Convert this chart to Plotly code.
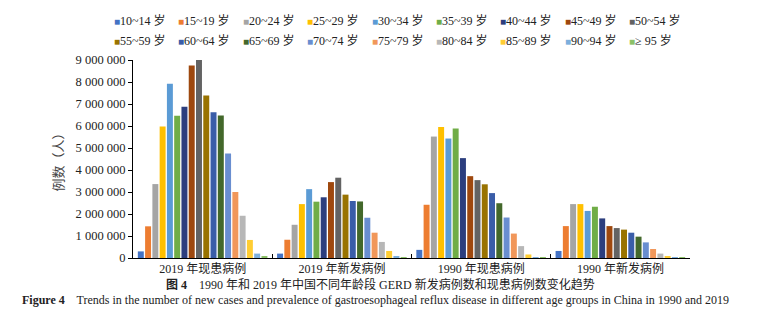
import plotly.graph_objects as go

groups = ["2019 年现患病例", "2019 年新发病例", "1990 年现患病例", "1990 年新发病例"]
ages = ["10~14 岁", "15~19 岁", "20~24 岁", "25~29 岁", "30~34 岁", "35~39 岁",
        "40~44 岁", "45~49 岁", "50~54 岁", "55~59 岁", "60~64 岁", "65~69 岁",
        "70~74 岁", "75~79 岁", "80~84 岁", "85~89 岁", "90~94 岁", "≥ 95 岁"]

prev_2019 = [300000, 1440000, 3360000, 5980000, 7920000, 6470000, 6880000, 8750000, 9010000,
             7390000, 6630000, 6480000, 4750000, 3000000, 1920000, 820000, 200000, 70000]
inc_2019 = [200000, 830000, 1510000, 2450000, 3130000, 2560000, 2760000, 3450000, 3650000,
            2880000, 2590000, 2570000, 1830000, 1150000, 730000, 320000, 90000, 20000]
prev_1990 = [370000, 2420000, 5520000, 5950000, 5430000, 5890000, 4540000, 3720000, 3540000,
             3350000, 2950000, 2490000, 1840000, 1110000, 540000, 160000, 30000, 5000]
inc_1990 = [320000, 1450000, 2450000, 2450000, 2140000, 2330000, 1800000, 1450000, 1360000,
            1290000, 1150000, 970000, 710000, 410000, 200000, 60000, 10000, 2000]

colors = ["#4472C4", "#ED7D31", "#A5A5A5", "#FFC000", "#5B9BD5", "#70AD47",
          "#2C3E7E", "#9E480E", "#636363", "#997300", "#3A5DA8", "#43682B",
          "#698ED0", "#F1975A", "#B7B7B7", "#FFCD33", "#7CAFDD", "#8CC168"]

y_title = "例数（人）"
caption_cn = "<b>图 4</b>　1990 年和 2019 年中国不同年龄段 GERD 新发病例数和现患病例数变化趋势"
caption_en = ("<b>Figure 4</b>    Trends in the number of new cases and prevalence of gastroesophageal "
              "reflux disease in different age groups in China in 1990 and 2019")

FONT = "Liberation Serif, Noto Sans CJK SC, serif"
TXT = "#222222"

fig = go.Figure()
series = [prev_2019, inc_2019, prev_1990, inc_1990]
for i, (age, col) in enumerate(zip(ages, colors)):
    fig.add_trace(go.Bar(
        x=groups,
        y=[s[i] for s in series],
        name=age,
        marker=dict(color=col, line=dict(width=0)),
        showlegend=False,
    ))

# legend drawn as text rows (9 entries per row)
W, H = 557.0, 198.0
annotations = []
for i, (age, col) in enumerate(zip(ages, colors)):
    row, colidx = divmod(i, 9)
    xpx = 112 + 64.4 * colidx
    ypx = 20 + 20 * row
    annotations.append(dict(
        x=(xpx - 133) / W, y=(258 - ypx) / H, xref="paper", yref="paper",
        xanchor="left", yanchor="middle", showarrow=False,
        text=f"<span style='color:{col};font-size:10px'>■</span>{age}",
        font=dict(family=FONT, size=12, color=TXT),
    ))

annotations.append(dict(
    x=(380 - 133) / W, y=(258 - 284) / H, xref="paper", yref="paper",
    xanchor="center", yanchor="middle", showarrow=False,
    text=caption_cn, font=dict(family=FONT, size=12, color=TXT)))
annotations.append(dict(
    x=(20 - 133) / W, y=(258 - 300) / H, xref="paper", yref="paper",
    xanchor="left", yanchor="middle", showarrow=False,
    text=caption_en, font=dict(family=FONT, size=12, color=TXT)))

fig.update_layout(
    width=760, height=318,
    margin=dict(l=133, r=70, t=60, b=60, autoexpand=False),
    paper_bgcolor="white", plot_bgcolor="white",
    barmode="group", bargap=0.06, bargroupgap=0.18,
    separators=". ",
    font=dict(family=FONT, size=12, color=TXT),
    annotations=annotations,
    xaxis=dict(
        showline=True, linecolor="#000000", linewidth=1,
        ticks="inside", tickson="boundaries", ticklen=4, tickcolor="#000000",
        tickfont=dict(family=FONT, size=12, color=TXT),
        showgrid=False, zeroline=False,
    ),
    yaxis=dict(
        range=[0, 9000000], tickvals=[i * 1000000 for i in range(10)],
        tickformat=",d",
        showline=True, linecolor="#000000", linewidth=1,
        ticks="outside", ticklen=4, tickcolor="#000000",
        tickfont=dict(family=FONT, size=12.5, color=TXT),
        showgrid=False, zeroline=False,
        title=dict(text=y_title, standoff=8, font=dict(family=FONT, size=13, color="#444444")),
    ),
)

fig.write_html("out.html")
